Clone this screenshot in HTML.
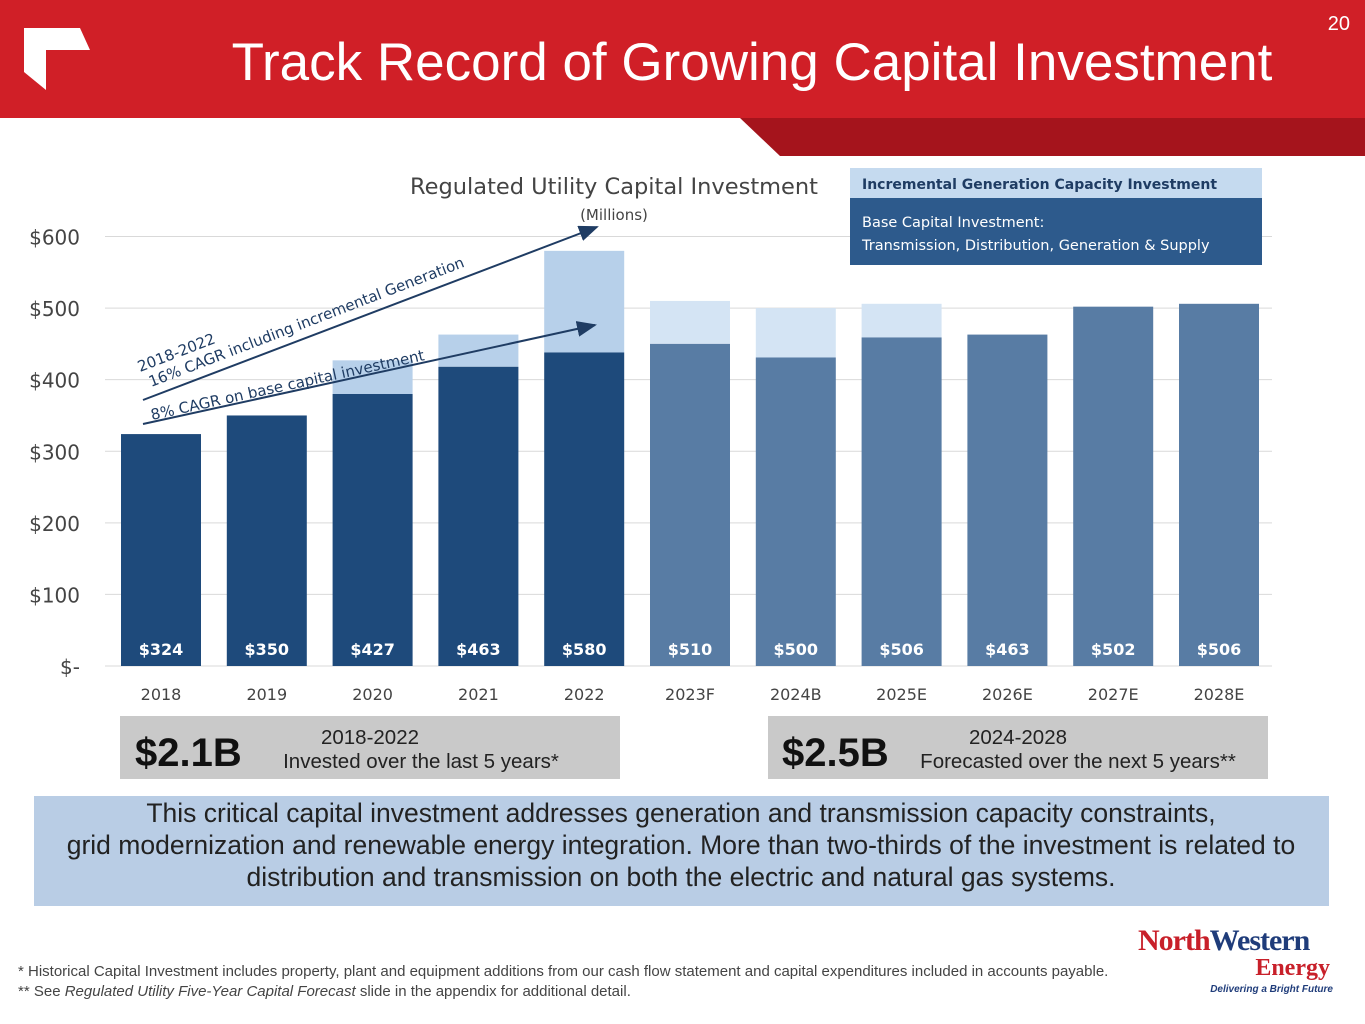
<!DOCTYPE html>
<html><head><meta charset="utf-8"><style>
html,body{margin:0;padding:0;background:#fff;}
svg{display:block;font-family:"Liberation Sans",sans-serif;}
.c{font-family:"DejaVu Sans","Liberation Sans",sans-serif;}
</style></head><body>
<svg id="s" width="1365" height="1024" viewBox="0 0 1365 1024" xmlns="http://www.w3.org/2000/svg">
<polygon points="740,118 1365,118 1365,156 780,156" fill="#a5141c"/>
<rect x="0" y="0" width="1365" height="118" fill="#d01f27"/>
<polygon points="24,28 80,28 90,50 46,50 46,90 24,72" fill="#fff"/>
<text x="752" y="80" font-size="53" fill="#fff" text-anchor="middle">Track Record of Growing Capital Investment</text>
<text x="1350" y="30" font-size="20" fill="#fff" text-anchor="end">20</text>
<text x="614" y="194" font-size="22.5" fill="#444" text-anchor="middle" class="c">Regulated Utility Capital Investment</text>
<text x="614" y="220" font-size="15" fill="#444" text-anchor="middle" class="c">(Millions)</text>
<g id="grid"></g><g id="bars"></g><g id="labels"></g>
<g>
<rect x="850" y="168" width="412" height="30" fill="#c5daef"/>
<text x="862" y="189" font-size="14" font-weight="bold" fill="#1f3c63" class="c">Incremental Generation Capacity Investment</text>
<rect x="850" y="198" width="412" height="67" fill="#2d5a8c"/>
<text x="862" y="227" font-size="14.5" fill="#fff" class="c">Base Capital Investment:</text>
<text x="862" y="250" font-size="14.5" fill="#fff" class="c">Transmission, Distribution, Generation &amp; Supply</text>
</g>
<defs><marker id="ah" markerWidth="10" markerHeight="8" refX="9" refY="4" orient="auto"><path d="M0,0 L10,4 L0,8z" fill="#1f3c63"/></marker></defs>
<line x1="143" y1="400" x2="597" y2="227" stroke="#1f3c63" stroke-width="2" marker-end="url(#ah)"/>
<line x1="143" y1="424" x2="595" y2="325" stroke="#1f3c63" stroke-width="2" marker-end="url(#ah)"/>
<g transform="translate(140,372) rotate(-21)" class="c" font-size="15" fill="#1f3c63"><text x="0" y="0">2018-2022</text><text x="5" y="18">16% CAGR including incremental Generation</text></g>
<g transform="translate(152,420) rotate(-12.4)" class="c" font-size="15" fill="#1f3c63"><text x="0" y="0">8% CAGR on base capital investment</text></g>
<rect x="120" y="716" width="500" height="63" fill="#c9c9c9"/>
<text x="135" y="766" font-size="40" font-weight="bold" fill="#111">$2.1B</text>
<text x="370" y="744" font-size="20.5" fill="#222" text-anchor="middle">2018-2022</text>
<text x="421" y="768" font-size="20.5" fill="#222" text-anchor="middle">Invested over the last 5 years*</text>
<rect x="768" y="716" width="500" height="63" fill="#c9c9c9"/>
<text x="782" y="766" font-size="40" font-weight="bold" fill="#111">$2.5B</text>
<text x="1018" y="744" font-size="20.5" fill="#222" text-anchor="middle">2024-2028</text>
<text x="1078" y="768" font-size="20.5" fill="#222" text-anchor="middle">Forecasted over the next 5 years**</text>
<rect x="34" y="796" width="1295" height="110" fill="#b9cde5"/>
<g font-size="26.5" fill="#222" text-anchor="middle">
<text x="681" y="822">This critical capital investment addresses generation and transmission capacity constraints,</text>
<text x="681" y="854">grid modernization and renewable energy integration. More than two-thirds of the investment is related to</text>
<text x="681" y="886">distribution and transmission on both the electric and natural gas systems.</text></g>
<text x="18" y="976" font-size="15" fill="#444">* Historical Capital Investment includes property, plant and equipment additions from our cash flow statement and capital expenditures included in accounts payable.</text>
<text x="18" y="996" font-size="15" fill="#444">** See <tspan font-style="italic">Regulated Utility Five-Year Capital Forecast</tspan> slide in the appendix for additional detail.</text>
<g>
<text x="1138" y="950" font-family="Liberation Serif,serif" font-size="30" font-weight="bold" fill="#c8202a" letter-spacing="-1">North<tspan fill="#1f3c7a">Western</tspan></text>
<text x="1330" y="975" font-family="Liberation Serif,serif" font-size="24" font-weight="bold" fill="#c8202a" text-anchor="end">Energy</text>
<text x="1333" y="992" font-size="10" font-weight="bold" font-style="italic" fill="#1f3c7a" text-anchor="end">Delivering a Bright Future</text>
</g>
</svg>
<script>
const categories=["2018","2019","2020","2021","2022","2023F","2024B","2025E","2026E","2027E","2028E"];
const baseValues=[324,350,380,418,438,450,431,459,463,502,506];
const totalValues=[324,350,427,463,580,510,500,506,463,502,506];
const totalLabels=["$324","$350","$427","$463","$580","$510","$500","$506","$463","$502","$506"];
const yTicks=[0,100,200,300,400,500,600];
const yTickLabels=["$-","$100","$200","$300","$400","$500","$600"];
const forecastStart=5;
const NS="http://www.w3.org/2000/svg";
const y=v=>666-v*0.7158;
const xc=i=>161+i*105.8;
const BW=80;
function mk(t,a,p){const e=document.createElementNS(NS,t);for(const k in a)e.setAttribute(k,a[k]);p.appendChild(e);return e;}
const grid=document.getElementById('grid'),bars=document.getElementById('bars'),labels=document.getElementById('labels');
yTicks.forEach((v,i)=>{
 const l=mk('line',{x1:105,x2:1272,y1:y(v),y2:y(v),stroke:'#d9d9d9','stroke-width':1},grid);
 
 
 const t=mk('text',{x:80,y:y(v)+8,'font-size':20,fill:'#444','text-anchor':'end',class:'c'},grid);
 t.textContent=yTickLabels[i];
 
 
});
categories.forEach((c,i)=>{
 const f=i>=forecastStart;
 if(totalValues[i]>baseValues[i]){
  const r=mk('rect',{x:xc(i)-BW/2,y:y(totalValues[i]),width:BW,height:y(baseValues[i])-y(totalValues[i]),fill:f?'#d4e4f4':'#b7d0ea'},bars);
  
  
 }
 const b=mk('rect',{x:xc(i)-BW/2,y:y(baseValues[i]),width:BW,height:y(0)-y(baseValues[i]),fill:f?'#587ca4':'#1e4a7b'},bars);
 
 
 const v=mk('text',{x:xc(i),y:655,'font-size':16,'font-weight':'bold',fill:'#fff','text-anchor':'middle',class:'c'},labels);
 v.textContent=totalLabels[i];
 
 
 const x=mk('text',{x:xc(i),y:700,'font-size':16,fill:'#444','text-anchor':'middle',class:'c'},labels);
 x.textContent=c;
 
 
});
</script>
</body></html>
